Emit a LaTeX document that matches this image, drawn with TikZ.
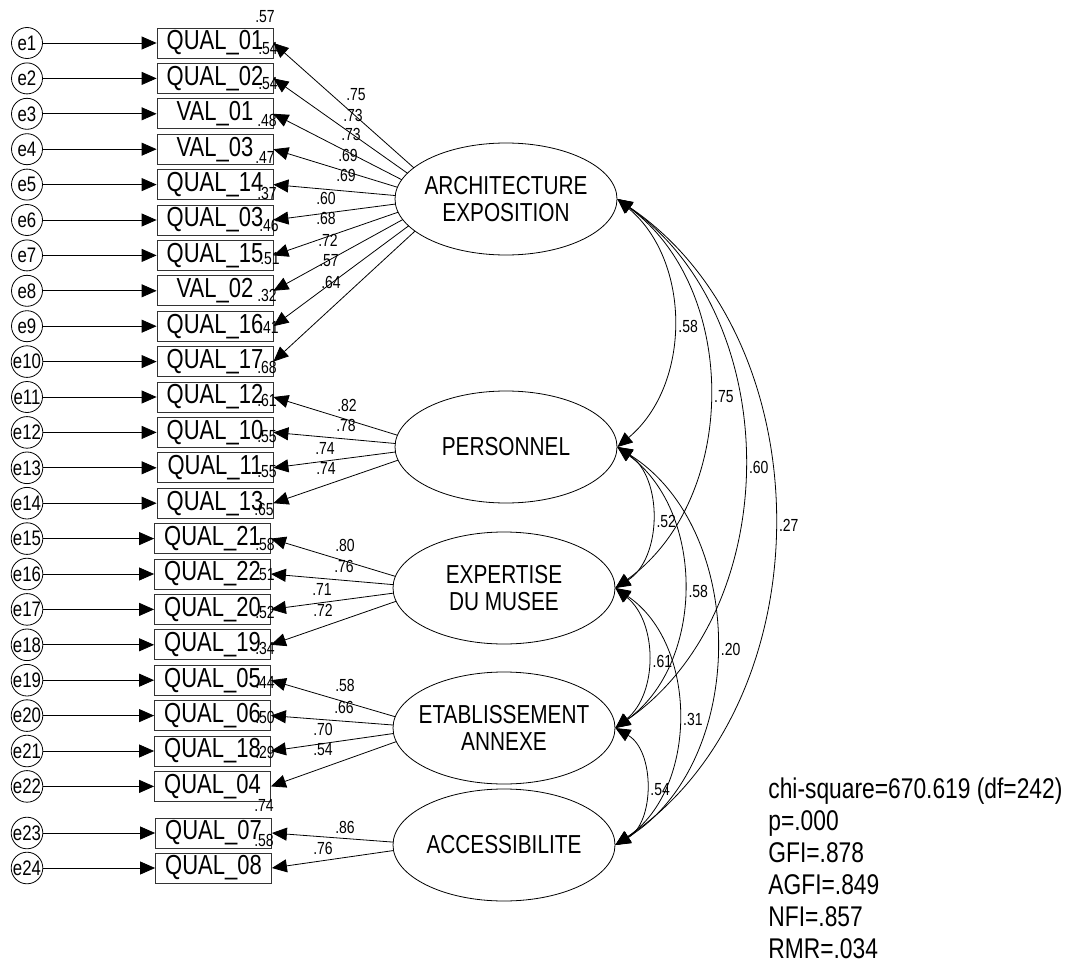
\documentclass[tikz,border=0pt]{standalone}
\usepackage{fontspec}
\setmainfont[FakeStretch=0.8]{Liberation Sans}
\usetikzlibrary{arrows.meta,calc,shapes.geometric}

\tikzset{
  lat/.style={draw, ellipse, minimum width=222pt, minimum height=112pt, inner xsep=-12pt, inner ysep=0pt, align=center, font=\fontsize{26}{27.5}\selectfont},
  obs/.style={draw=black!80, rectangle, minimum width=116pt, minimum height=30pt, inner sep=0pt, font=\fontsize{27.5}{27.5}\selectfont},
  err/.style={draw, circle, minimum size=31pt, inner sep=0pt, font=\fontsize{21}{21}\selectfont},
  val/.style={inner sep=0pt, font=\fontsize{17.5}{17.5}\selectfont},
  cv/.style={val, midway, anchor=west, xshift=5pt, yshift=-3pt},
}

\begin{document}
\begin{tikzpicture}[x=1pt, y=-1pt, line width=0.8pt, >={Triangle[length=15pt,width=13pt]}]
\useasboundingbox (0,0) rectangle (1080,966);

% latent factors
\begin{scope}[every node/.style={lat}]
  \node (AE) at (506,199) {ARCHITECTURE\\EXPOSITION};
  \node (PE) at (506,447) {PERSONNEL};
  \node (EM) at (504,588) {EXPERTISE\\DU MUSEE};
  \node (EA) at (504,728) {ETABLISSEMENT\\ANNEXE};
  \node (AC) at (504,845) {ACCESSIBILITE};
\end{scope}

% items and error terms
\foreach \i/\lab/\xx/\yy in {1/QUAL\_01/215/43, 2/QUAL\_02/215/78.4, 3/VAL\_01/215/113.8,
    4/VAL\_03/215/149.2, 5/QUAL\_14/215/184.6, 6/QUAL\_03/215/220, 7/QUAL\_15/215/255.4,
    8/VAL\_02/215/290.8, 9/QUAL\_16/215/326.2, 10/QUAL\_17/215/361.6, 11/QUAL\_12/215/397,
    12/QUAL\_10/215/432.4, 13/QUAL\_11/215/467.8, 14/QUAL\_13/215/503.2, 15/QUAL\_21/212.5/538.6,
    16/QUAL\_22/212.5/574, 17/QUAL\_20/212.5/609.4, 18/QUAL\_19/212.5/644.8, 19/QUAL\_05/212.5/680.2,
    20/QUAL\_06/212.5/715.6, 21/QUAL\_18/212.5/751, 22/QUAL\_04/212.5/786.4, 23/QUAL\_07/213.5/833,
    24/QUAL\_08/213.5/868} {
  \node[err] (e\i) at (27,\yy) {e\i};
  \node[obs] (V\i) at (\xx,\yy) {\lab};
  \draw[->] (e\i) -- (V\i);
}

% loadings
\foreach \i/\f/\ld/\lx/\ly in {1/AE/.75/356/95, 2/AE/.73/353/115, 3/AE/.73/351/134, 4/AE/.69/348/155,
    5/AE/.69/346/175, 6/AE/.60/326/198, 7/AE/.68/326/218, 8/AE/.72/328/240, 9/AE/.57/329/261,
    10/AE/.64/331/282, 11/PE/.82/347/405, 12/PE/.78/346/425, 13/PE/.74/325/448, 14/PE/.74/326/468,
    15/EM/.80/345/545, 16/EM/.76/344/566, 17/EM/.71/322/589, 18/EM/.72/323/610,
    19/EA/.58/345/685, 20/EA/.66/344/707, 21/EA/.70/323/729, 22/EA/.54/323/750,
    23/AC/.86/345/827, 24/AC/.76/323/848} {
  \draw[->] let \p1=($(V\i.east)-(\f)$), \n1={atan2(\y1,\x1)} in
    ($(\f)+(\n1:111pt and 56pt)$) -- (V\i.east);
  \node[val] (L\i) at (\lx,\ly) {\ld};
}

% squared multiple correlations
\foreach \i/\rr/\rx/\ry in {1/.57/265/17, 2/.54/268/49, 3/.54/268/84, 4/.48/267/120, 5/.47/265/157,
    6/.37/267/193, 7/.46/269/225, 8/.51/270/259, 9/.32/267/295, 10/.41/269/327, 11/.68/267/367,
    12/.61/267/400, 13/.55/267/437, 14/.55/267/472, 15/.65/264/509, 16/.58/265/544,
    17/.51/265/575, 18/.52/265/612, 19/.34/265/648, 20/.44/265/682, 21/.50/265/717,
    22/.29/265/752, 23/.74/264/805, 24/.58/264/840}
  \node[val] (R\i) at (\rx,\ry) {\rr};

% covariances
\draw[<->] (AE.east) to[bend left=50] node[cv] (c1) {.58} (PE.east);
\draw[<->] (AE.east) to[bend left=54] node[cv] (c2) {.75} (EM.east);
\draw[<->] (AE.east) to[bend left=55] node[cv] (c3) {.60} (EA.east);
\draw[<->] (AE.east) to[bend left=56] node[cv] (c4) {.27} (AC.east);
\draw[<->] (PE.east) to[bend left=57] node[cv] (c5) {.52} (EM.east);
\draw[<->] (PE.east) to[bend left=54] node[cv] (c6) {.58} (EA.east);
\draw[<->] (PE.east) to[bend left=58] node[cv] (c7) {.20} (AC.east);
\draw[<->] (EM.east) to[bend left=51] node[cv] (c8) {.61} (EA.east);
\draw[<->] (EM.east) to[bend left=56] node[cv] (c9) {.31} (AC.east);
\draw[<->] (EA.east) to[bend left=60] node[cv] (c10) {.54} (AC.east);

% fit indices
\node[anchor=north west, align=left, inner sep=0pt, font=\fontsize{28.5}{32}\selectfont] (fit) at (768,777)
  {chi-square=670.619 (df=242)\\p=.000\\GFI=.878\\AGFI=.849\\NFI=.857\\RMR=.034};
\end{tikzpicture}
\end{document}
